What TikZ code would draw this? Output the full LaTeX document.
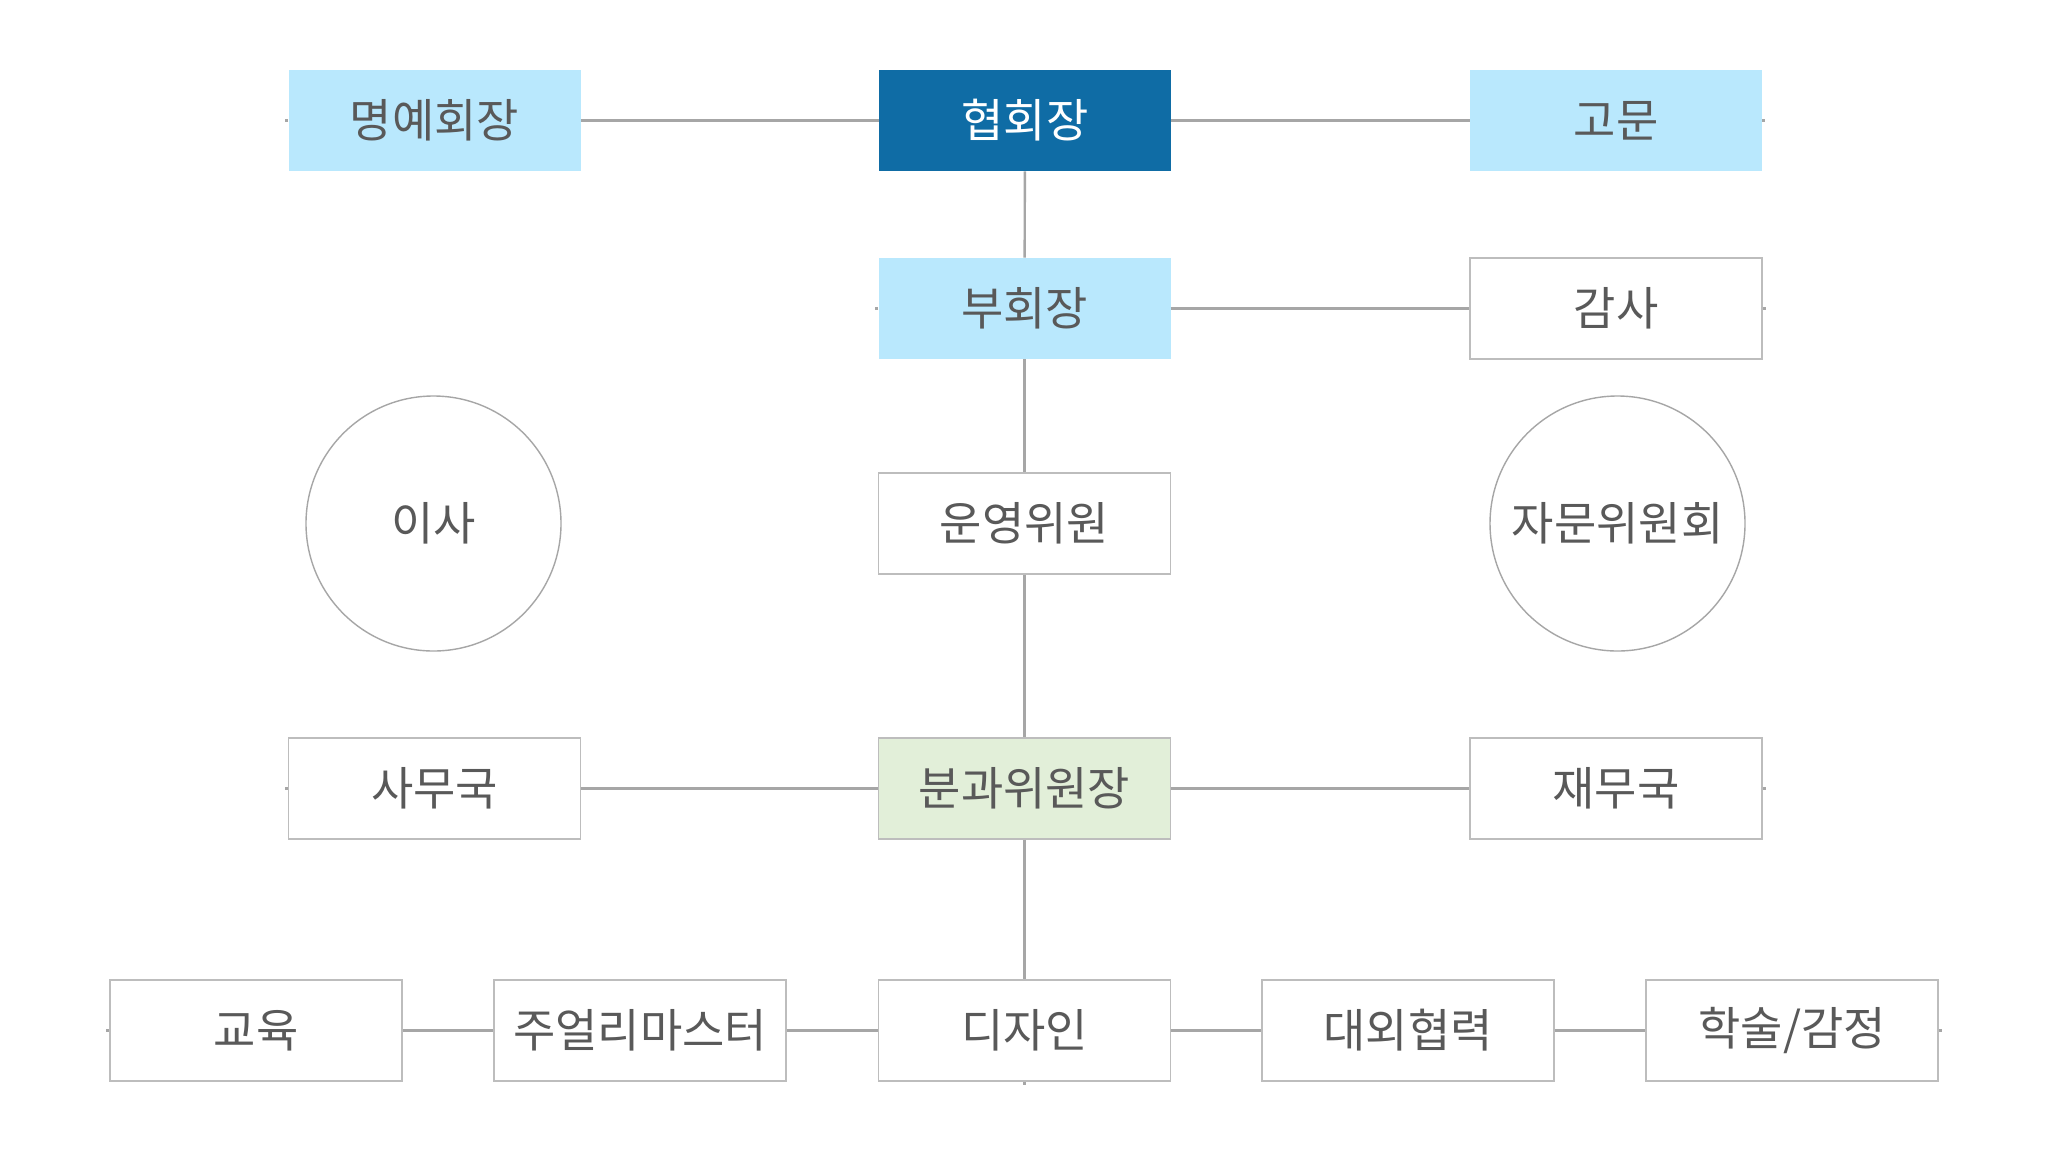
\documentclass[tikz,border=0pt]{standalone}
\usepackage{fontspec}
\setmainfont{Noto Sans CJK KR}
\definecolor{txtgray}{HTML}{595959}
\definecolor{bordergray}{HTML}{BDBDBD}
\definecolor{linegray}{HTML}{A6A6A6}
\definecolor{lightblue}{HTML}{B9E8FD}
\definecolor{darkblue}{HTML}{0F6CA5}
\definecolor{lightgreen}{HTML}{E2EFD9}
\tikzset{
  box/.style={rectangle, minimum width=146pt, minimum height=50.5pt, inner sep=0pt,
    text=txtgray, font=\fontsize{23pt}{27pt}\selectfont},
  plainbox/.style={box, draw=bordergray, line width=0.9pt, fill=white},
  bluebox/.style={box, fill=lightblue},
  topbox/.style={box, fill=darkblue, text=white},
  greenbox/.style={box, fill=lightgreen, draw=bordergray, line width=0.9pt},
  roundbox/.style={circle, draw=linegray, line width=0.7pt, minimum size=127.5pt, inner sep=0pt,
    text=txtgray, font=\fontsize{23pt}{27pt}\selectfont},
  conn/.style={draw=linegray, line width=1.2pt}
}
\begin{document}
\begin{tikzpicture}[x=0.5pt, y=-0.5pt]
\path[fill=white] (0,0) rectangle (2048,1152);
% row 1
\node[bluebox] (hon) at (434.5,120.5) {명예회장};
\node[topbox] (pres) at (1025,120.5) {협회장};
\node[bluebox] (adv) at (1616,120.5) {고문};
% row 2
\node[bluebox] (vice) at (1024.5,308.5) {부회장};
\node[plainbox] (audit) at (1616,308.5) {감사};
% row 3
\node[roundbox] (dir) at (433.5,523.5) {이사};
\node[plainbox] (oper) at (1024.5,523.5) {운영위원};
\node[roundbox] (council) at (1617.5,523.5) {자문위원회};
% row 4
\node[plainbox] (office) at (434.5,788.5) {사무국};
\node[greenbox] (chair) at (1024.5,788.5) {분과위원장};
\node[plainbox] (fin) at (1616,788.5) {재무국};
% row 5
\node[plainbox] (edu) at (256,1030.5) {교육};
\node[plainbox] (jm) at (640,1030.5) {주얼리마스터};
\node[plainbox] (des) at (1024.5,1030.5) {디자인};
\node[plainbox] (ext) at (1408,1030.5) {대외협력};
\node[plainbox] (acad) at (1792,1030.5) {학술/감정};
% connectors
\draw[conn] (hon) -- (pres);
\draw[conn] (pres) -- (adv);
\draw[conn] (pres) -- (vice);
\draw[conn] (vice) -- (audit);
\draw[conn] (vice) -- (oper);
\draw[conn] (oper) -- (chair);
\draw[conn] (office) -- (chair);
\draw[conn] (chair) -- (fin);
\draw[conn] (chair) -- (des);
\draw[conn] (edu) -- (jm);
\draw[conn] (jm) -- (des);
\draw[conn] (des) -- (ext);
\draw[conn] (ext) -- (acad);
% small stubs at outer ends
\coordinate (s1) at ([xshift=-1.5pt]hon.west);
\draw[conn] (hon.west) -- (s1);
\coordinate (s2) at ([xshift=1.5pt]adv.east);
\draw[conn] (adv.east) -- (s2);
\coordinate (s3) at ([xshift=-1.5pt]vice.west);
\draw[conn] (vice.west) -- (s3);
\coordinate (s4) at ([xshift=1.5pt]audit.east);
\draw[conn] (audit.east) -- (s4);
\coordinate (s5) at ([xshift=-1.5pt]office.west);
\draw[conn] (office.west) -- (s5);
\coordinate (s6) at ([xshift=1.5pt]fin.east);
\draw[conn] (fin.east) -- (s6);
\coordinate (s7) at ([xshift=-1.5pt]edu.west);
\draw[conn] (edu.west) -- (s7);
\coordinate (s8) at ([xshift=1.5pt]acad.east);
\draw[conn] (acad.east) -- (s8);
\coordinate (s9) at ([yshift=-1.5pt]des.south);
\draw[conn] (des.south) -- (s9);
\end{tikzpicture}
\end{document}
